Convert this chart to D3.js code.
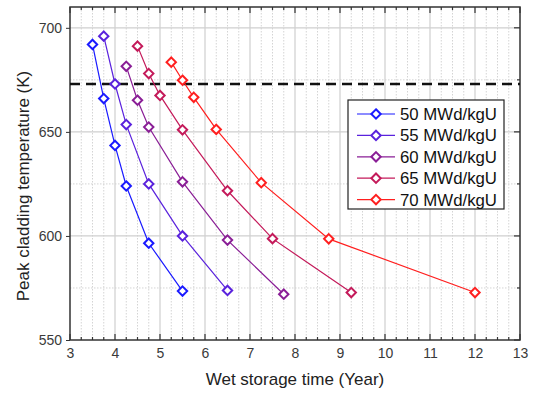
<!DOCTYPE html>
<html>
<head>
<meta charset="utf-8">
<script src="https://cdn.jsdelivr.net/npm/d3@7"></script>
<style>
  body { margin: 0; background: #fff; }
  text { font-family: Arial, "Liberation Sans", sans-serif; }
</style>
</head>
<body>
<svg id="chart" width="533" height="394"></svg>
<script>
// burnup series
var seriesNames = ["50 MWd/kgU", "55 MWd/kgU", "60 MWd/kgU", "65 MWd/kgU", "70 MWd/kgU"];
var seriesColors = ["#1a1aff", "#5a22dd", "#8a1e96", "#c41a5a", "#ff1f1f"];
var time50 = [3.5, 3.75, 4.0, 4.25, 4.75, 5.5];
var temp50 = [692, 666, 643.5, 624, 596.5, 573.5];
var time55 = [3.75, 4.0, 4.25, 4.75, 5.5, 6.5];
var temp55 = [696, 673, 653.5, 625, 600, 573.8];
var time60 = [4.25, 4.5, 4.75, 5.5, 6.5, 7.75];
var temp60 = [681.5, 665.2, 652.3, 626, 598, 572];
var time65 = [4.5, 4.75, 5.0, 5.5, 6.5, 7.5, 9.25];
var temp65 = [691.2, 678, 667.5, 651, 621.7, 598.7, 572.8];
var time70 = [5.25, 5.5, 5.75, 6.25, 7.25, 8.75, 12.0];
var temp70 = [683.5, 674.8, 666.6, 651.2, 625.6, 598.6, 572.8];
var limitTemp = 673;
var xTicks = [3, 4, 5, 6, 7, 8, 9, 10, 11, 12, 13];
var yTicks = [550, 600, 650, 700];

var times = [time50, time55, time60, time65, time70];
var temps = [temp50, temp55, temp60, temp65, temp70];

var svg = d3.select("#chart");
var pL = 70, pR = 520, pT = 7, pB = 340;

var x = d3.scaleLinear().domain([3, 13]).range([pL, pR]);
var y = d3.scaleLinear().domain([550, 710]).range([pB, pT]);

var g = svg.append("g");

// grid: dotted minor, solid major
var xMinor = d3.range(3, 13.001, 0.25).filter(function(v) { return v % 1 !== 0; });
var yMinor = [575, 625, 675];
g.selectAll(".xminor").data(xMinor).enter().append("line")
    .attr("x1", x).attr("x2", x).attr("y1", pT).attr("y2", pB)
    .attr("stroke", "#d4d4d4").attr("stroke-width", 1).attr("stroke-dasharray", "1.5,1.5");
g.selectAll(".yminor").data(yMinor).enter().append("line")
    .attr("x1", pL).attr("x2", pR).attr("y1", y).attr("y2", y)
    .attr("stroke", "#d4d4d4").attr("stroke-width", 1).attr("stroke-dasharray", "1.5,1.5");
g.selectAll(".xmajor").data(xTicks.slice(1, -1)).enter().append("line")
    .attr("x1", x).attr("x2", x).attr("y1", pT).attr("y2", pB)
    .attr("stroke", "#cfcfcf").attr("stroke-width", 1.2);
g.selectAll(".ymajor").data(yTicks.slice(1)).enter().append("line")
    .attr("x1", pL).attr("x2", pR).attr("y1", y).attr("y2", y)
    .attr("stroke", "#cfcfcf").attr("stroke-width", 1.2);

// axes
var axisColor = "#333";
var bottomAxis = d3.axisBottom(x).tickValues(xTicks).tickSize(0).tickPadding(8);
var gx = svg.append("g").attr("transform", "translate(0," + pB + ")").call(bottomAxis);
gx.select(".domain").remove();
gx.selectAll("text").attr("font-size", 14).attr("fill", "#3a3a3a");

var leftAxis = d3.axisLeft(y).tickValues(yTicks).tickSize(4).tickPadding(4);
var gy = svg.append("g").attr("transform", "translate(" + pL + ",0)").call(leftAxis);
gy.select(".domain").remove();
gy.selectAll("line").attr("stroke", axisColor);
gy.selectAll("text").attr("font-size", 14).attr("fill", "#3a3a3a");

// inward ticks on top / bottom / right
var ticks = svg.append("g").attr("stroke", axisColor);
var xAll = d3.range(3, 13.001, 0.25);
xAll.forEach(function(v) {
  var len = (v % 1 === 0) ? 6 : 3;
  ticks.append("line").attr("x1", x(v)).attr("x2", x(v)).attr("y1", pB).attr("y2", pB - len).attr("stroke-width", 1.2);
  ticks.append("line").attr("x1", x(v)).attr("x2", x(v)).attr("y1", pT).attr("y2", pT + len).attr("stroke-width", 1.2);
});
yTicks.concat(yMinor).forEach(function(v) {
  var len = (v % 50 === 0) ? 6 : 3;
  ticks.append("line").attr("x1", pR).attr("x2", pR - len).attr("y1", y(v)).attr("y2", y(v)).attr("stroke-width", 1.2);
});

svg.append("rect").attr("x", pL).attr("y", pT)
    .attr("width", pR - pL).attr("height", pB - pT)
    .attr("fill", "none").attr("stroke", axisColor).attr("stroke-width", 1.5);

// 673 K limit
svg.append("line").attr("x1", pL).attr("x2", pR)
    .attr("y1", y(limitTemp)).attr("y2", y(limitTemp))
    .attr("stroke", "#111").attr("stroke-width", 2.5).attr("stroke-dasharray", "10,6");

// series
var line = d3.line().x(function(d) { return x(d[0]); }).y(function(d) { return y(d[1]); });
var diamond = d3.symbol().type(d3.symbolDiamond2).size(56);

seriesNames.forEach(function(name, i) {
  var pts = d3.zip(times[i], temps[i]);
  svg.append("path").datum(pts).attr("d", line)
      .attr("fill", "none").attr("stroke", seriesColors[i]).attr("stroke-width", 1.2);
  svg.selectAll(".m" + i).data(pts).enter().append("path")
      .attr("d", diamond)
      .attr("transform", function(d) { return "translate(" + x(d[0]) + "," + y(d[1]) + ")"; })
      .attr("fill", "#fff").attr("stroke", seriesColors[i]).attr("stroke-width", 2);
});

// legend
var lg = svg.append("g").attr("transform", "translate(348,100)");
lg.append("rect").attr("width", 156).attr("height", 109)
    .attr("fill", "#fff").attr("stroke", "#222").attr("stroke-width", 1.2);
seriesNames.forEach(function(name, i) {
  var cy = 14 + i * 21.4;
  lg.append("line").attr("x1", 9).attr("x2", 47).attr("y1", cy).attr("y2", cy)
      .attr("stroke", seriesColors[i]).attr("stroke-width", 1.2);
  lg.append("path").attr("d", diamond).attr("transform", "translate(28," + cy + ")")
      .attr("fill", "#fff").attr("stroke", seriesColors[i]).attr("stroke-width", 2);
  lg.append("text").attr("x", 52).attr("y", cy + 6).attr("font-size", 16.8)
      .attr("fill", "#111").text(name);
});

// titles
svg.append("text").attr("x", (pL + pR) / 2).attr("y", 385)
    .attr("text-anchor", "middle").attr("font-size", 17).attr("fill", "#222")
    .text("Wet storage time (Year)");
svg.append("text").attr("transform", "translate(29," + 186 + ") rotate(-90)")
    .attr("text-anchor", "middle").attr("font-size", 17).attr("fill", "#222")
    .text("Peak cladding temperature (K)");
</script>
</body>
</html>
